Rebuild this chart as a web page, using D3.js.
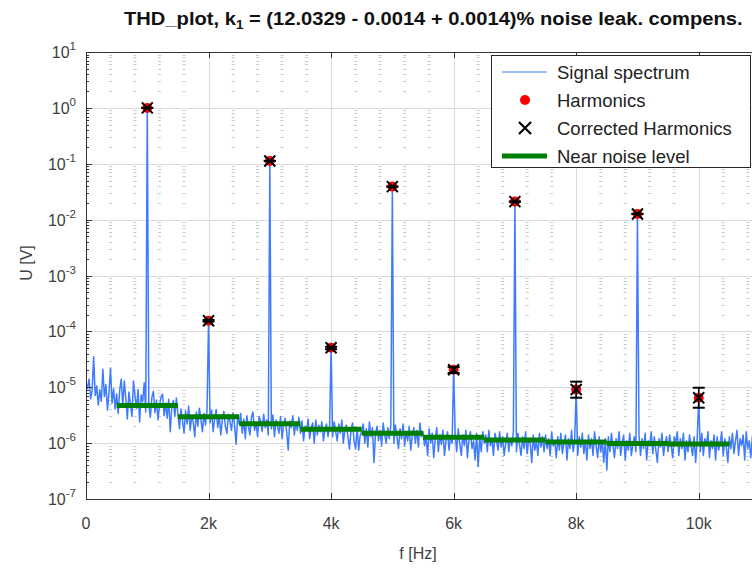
<!DOCTYPE html>
<html>
<head>
<meta charset="utf-8">
<script src="https://cdn.jsdelivr.net/npm/d3@7"></script>
<style>
  body { margin: 0; background: #fff; }
  svg text { font-family: "Liberation Sans", Arial, sans-serif; }
</style>
</head>
<body>
<svg id="chart" width="752" height="570"></svg>
<script>
// THD plot: spectrum (log amplitude) with harmonics, corrected harmonics and noise floor.

// --- data ---
const harmFreq = [1000, 2000, 3000, 4000, 5000, 6000, 7000, 8000, 9000, 10000];
const harmAmp  = [1.0, 1.55e-4, 0.112, 5.1e-5, 0.039, 2.05e-5, 0.021, 9.1e-6, 0.0126, 6.5e-6];
const corrAmp  = [1.0, 1.55e-4, 0.112, 5.1e-5, 0.039, 2.05e-5, 0.021, 9.1e-6, 0.0126, 6.5e-6];
const corrLow  = [1.0, 1.5e-4, 0.112, 4.8e-5, 0.039, 1.8e-5, 0.021, 6.5e-6, 0.0126, 4.3e-6];
const corrHigh = [1.0, 1.6e-4, 0.112, 5.3e-5, 0.039, 2.3e-5, 0.021, 1.26e-5, 0.0126, 9.8e-6];
// near-noise level, one segment of +-500 Hz around each harmonic
const noiseLevel = [4.73e-6, 2.95e-6, 2.23e-6, 1.78e-6, 1.5e-6, 1.27e-6, 1.14e-6, 1.05e-6, 9.8e-7, 9.6e-7];

// signal spectrum noise floor in µV, one bin every 25 Hz from 0 to 11 kHz
const binStep = 25;
const noiseUV = [
  12, 9.5, 14, 6.2, 8.8, 35, 7.1, 10.5, 4.8, 9.0, 5.6, 21, 6.8, 11.2, 3.9, 8.1, 22, 5.2, 9.4, 4.1,
  7.6, 3.4, 8.9, 14, 4.6, 13, 6.3, 2.7, 8.2, 5.1, 3.0, 13, 6.9, 4.2, 9.1, 2.4, 7.3, 5.5, 12, 3.6,
  6.0, 4.8, 2.9, 6.6, 8.5, 3.5, 5.9, 2.6, 4.7, 6.8, 7.5, 3.1, 5.2, 2.8, 6.1, 1.6, 4.4, 5.8, 3.0, 6.4,
  3.3, 1.8, 4.1, 2.6, 1.5, 3.8, 2.2, 4.6, 1.7, 3.0, 2.4, 1.3, 3.6, 2.0, 4.2, 2.7, 1.6, 3.4, 2.1, 3.9,
  3.0, 2.3, 3.9, 1.6, 2.8, 4.0, 1.9, 3.2, 1.4, 2.6, 3.7, 2.0, 1.5, 3.3, 2.4, 1.7, 3.5, 2.1, 0.95, 2.9,
  2.2, 3.4, 1.5, 2.7, 1.2, 3.1, 2.0, 1.4, 2.9, 3.6, 1.7, 2.3, 1.3, 3.0, 2.5, 1.6, 3.3, 1.9, 2.6, 1.4,
  2.4, 1.8, 3.2, 1.3, 2.6, 2.0, 1.5, 3.0, 1.2, 2.2, 2.8, 1.6, 0.75, 2.5, 1.9, 3.1, 1.4, 2.3, 1.7, 2.9,
  1.5, 2.5, 1.1, 2.0, 1.7, 2.7, 1.2, 1.9, 2.3, 1.0, 2.6, 1.4, 2.1, 1.6, 2.4, 1.1, 1.8, 2.2, 1.3, 2.0,
  1.9, 1.3, 2.4, 1.6, 1.1, 2.2, 1.5, 2.6, 1.0, 1.8, 2.1, 1.3, 0.78, 1.7, 2.3, 1.1, 0.8, 1.9, 0.75, 1.4,
  1.6, 2.2, 1.0, 1.8, 0.85, 2.4, 1.3, 1.9, 0.45, 1.5, 2.0, 1.1, 1.7, 0.9, 2.3, 1.4, 1.0, 1.9, 1.2, 2.1,
  1.5, 1.0, 2.1, 1.3, 0.8, 1.8, 1.2, 2.2, 0.9, 1.6, 1.1, 2.0, 0.75, 1.4, 1.9, 1.0, 1.7, 0.85, 2.3, 1.3,
  1.6, 0.9, 1.3, 0.6, 1.8, 1.0, 1.5, 0.55, 1.2, 1.9, 0.7, 1.4, 0.95, 1.7, 0.6, 1.1, 1.6, 0.75, 1.3, 1.0,
  1.2, 1.5, 0.7, 1.8, 1.0, 0.6, 1.4, 0.9, 1.7, 0.55, 1.2, 1.6, 0.8, 1.1, 0.5, 1.5, 0.38, 1.3, 0.7, 1.6,
  1.0, 1.4, 0.7, 1.7, 0.9, 1.2, 0.6, 1.5, 1.1, 0.75, 1.6, 0.85, 1.3, 0.6, 1.0, 1.5, 0.7, 1.2, 0.9, 1.6,
  1.1, 0.7, 1.5, 0.95, 0.6, 1.3, 0.8, 1.6, 0.65, 1.2, 1.0, 0.45, 1.4, 0.75, 1.1, 0.6, 1.5, 0.85, 1.3, 0.7,
  1.4, 0.8, 1.2, 0.6, 1.6, 0.9, 1.1, 0.55, 1.3, 0.75, 1.5, 0.65, 1.0, 1.4, 0.5, 1.2, 0.8, 1.7, 0.7, 1.1,
  1.0, 0.6, 1.3, 0.85, 1.5, 0.65, 1.1, 0.5, 1.4, 0.8, 1.2, 0.6, 1.6, 0.9, 0.55, 1.3, 0.7, 1.1, 0.45, 1.2,
  0.33, 1.3, 0.7, 1.5, 0.9, 0.55, 1.2, 0.8, 1.6, 0.6, 1.0, 1.4, 0.5, 1.1, 0.75, 1.5, 0.6, 0.95, 1.3, 0.7,
  1.0, 1.4, 0.6, 1.2, 0.8, 1.5, 0.5, 1.1, 0.9, 1.6, 0.65, 1.3, 0.75, 0.45, 1.2, 0.85, 1.5, 0.6, 1.0, 1.3,
  0.7, 1.4, 0.9, 0.55, 1.3, 1.0, 1.6, 0.6, 1.2, 0.8, 1.5, 0.5, 1.1, 0.7, 1.4, 0.9, 0.6, 1.3, 0.45, 1.2,
  1.0, 0.7, 1.5, 0.6, 1.2, 0.9, 1.6, 0.55, 1.1, 0.8, 1.4, 0.5, 1.3, 0.75, 1.0, 1.6, 0.6, 1.2, 0.85, 0.45,
  1.3, 0.8, 1.5, 0.65, 1.1, 1.7, 0.6, 1.2, 0.9, 1.4, 0.5, 1.6, 0.8, 1.1, 0.55, 1.3, 1.0, 1.7, 0.7, 1.2,
  0.9
];

const xTicks = [0, 2000, 4000, 6000, 8000, 10000];
const xTickLabels = ['0', '2k', '4k', '6k', '8k', '10k'];
const yDecades = [1, 0, -1, -2, -3, -4, -5, -6, -7];
const legendItems = ['Signal spectrum', 'Harmonics', 'Corrected Harmonics', 'Near noise level'];

// --- layout ---
const M = { left: 86, top: 52, bottom: 499, right: 760 };
const BLUE = '#3f7bff', GREEN = '#007f00', RED = '#ff0000', AXIS = '#333', LABEL = '#404040';

const svg = d3.select('#chart');
const x = d3.scaleLinear().domain([0, 11000]).range([M.left, M.right]);
const y = d3.scaleLog().domain([1e-7, 10]).range([M.bottom, M.top]);

svg.append('defs').append('clipPath').attr('id', 'plotClip')
  .append('rect').attr('x', M.left).attr('y', M.top)
  .attr('width', M.right - M.left).attr('height', M.bottom - M.top);

const grid = svg.append('g');
// minor grid: MATLAB dotted lines show up as small dashes where minor lines cross
const xMinor = d3.range(400, 11000, 400).filter(v => v % 2000 !== 0);
const yMinor = [];
for (let e = -7; e < 1; e++) for (let m = 2; m <= 9; m++) yMinor.push(m * Math.pow(10, e));
const dots = [];
xMinor.forEach(xv => yMinor.forEach(yv => dots.push([xv, yv])));
xMinor.forEach(xv => [1e-7, 1e-6, 1e-5, 1e-4, 1e-3, 1e-2, 1e-1, 1, 10].forEach(yv => dots.push([xv, yv])));
grid.selectAll('line.dot').data(dots).enter().append('line').attr('class', 'dot')
  .attr('x1', d => x(d[0]) - 1.5).attr('x2', d => x(d[0]) + 1.5)
  .attr('y1', d => Math.round(y(d[1])) + 0.5).attr('y2', d => Math.round(y(d[1])) + 0.5)
  .attr('stroke', '#cacaca').attr('stroke-width', 1);

// major grid
grid.selectAll('line.vx').data(xTicks.slice(1)).enter().append('line')
  .attr('x1', d => Math.round(x(d)) + 0.5).attr('x2', d => Math.round(x(d)) + 0.5)
  .attr('y1', M.top).attr('y2', M.bottom).attr('stroke', '#dcdcdc');
grid.selectAll('line.hy').data(yDecades.slice(1, -1)).enter().append('line')
  .attr('x1', M.left).attr('x2', M.right)
  .attr('y1', d => Math.round(y(Math.pow(10, d))) + 0.5).attr('y2', d => Math.round(y(Math.pow(10, d))) + 0.5)
  .attr('stroke', '#dcdcdc');

const plot = svg.append('g').attr('clip-path', 'url(#plotClip)');

// spectrum: noise floor with the harmonic bins set to the harmonic amplitudes
const spectrum = noiseUV.map((u, i) => {
  const f = i * binStep;
  const h = harmFreq.indexOf(f);
  return { f, v: h >= 0 ? harmAmp[h] : u * 1e-6 };
});
plot.append('path').datum(spectrum)
  .attr('d', d3.line().x(d => x(d.f)).y(d => y(d.v)))
  .attr('fill', 'none').attr('stroke', BLUE).attr('stroke-width', 1.5)
  .attr('stroke-linejoin', 'round');

// near noise level segments
plot.selectAll('line.noise').data(harmFreq).enter().append('line')
  .attr('x1', d => x(d - 500)).attr('x2', d => x(d + 500))
  .attr('y1', (d, i) => y(noiseLevel[i])).attr('y2', (d, i) => y(noiseLevel[i]))
  .attr('stroke', GREEN).attr('stroke-width', 5);

// harmonics (red dots)
plot.selectAll('circle.h').data(harmFreq).enter().append('circle')
  .attr('cx', d => x(d)).attr('cy', (d, i) => y(harmAmp[i])).attr('r', 5).attr('fill', RED);

// corrected harmonics with error bars
const cg = plot.selectAll('g.corr').data(harmFreq).enter().append('g')
  .attr('transform', d => `translate(${x(d)},0)`);
cg.append('line').attr('x1', 0).attr('x2', 0)
  .attr('y1', (d, i) => y(corrLow[i])).attr('y2', (d, i) => y(corrHigh[i]))
  .attr('stroke', '#000').attr('stroke-width', 1.5);
cg.append('line').attr('x1', -6).attr('x2', 6)
  .attr('y1', (d, i) => y(corrLow[i])).attr('y2', (d, i) => y(corrLow[i]))
  .attr('stroke', '#000').attr('stroke-width', 2);
cg.append('line').attr('x1', -6).attr('x2', 6)
  .attr('y1', (d, i) => y(corrHigh[i])).attr('y2', (d, i) => y(corrHigh[i]))
  .attr('stroke', '#000').attr('stroke-width', 2);
cg.append('path').attr('d', (d, i) => {
  const cy = y(corrAmp[i]);
  return `M-5.5,${cy - 5.5}L5.5,${cy + 5.5}M-5.5,${cy + 5.5}L5.5,${cy - 5.5}`;
}).attr('stroke', '#000').attr('stroke-width', 2).attr('fill', 'none');

// --- axes box and ticks (inward, MATLAB style) ---
const ax = svg.append('g');
ax.append('rect').attr('x', M.left + 0.5).attr('y', M.top + 0.5)
  .attr('width', M.right - M.left).attr('height', M.bottom - M.top)
  .attr('fill', 'none').attr('stroke', AXIS);
xTicks.forEach(t => {
  const px = Math.round(x(t)) + 0.5;
  ax.append('line').attr('x1', px).attr('x2', px).attr('y1', M.bottom).attr('y2', M.bottom - 6).attr('stroke', AXIS);
  ax.append('line').attr('x1', px).attr('x2', px).attr('y1', M.top).attr('y2', M.top + 6).attr('stroke', AXIS);
});
yDecades.forEach(e => {
  const py = Math.round(y(Math.pow(10, e))) + 0.5;
  ax.append('line').attr('x1', M.left).attr('x2', M.left + 6).attr('y1', py).attr('y2', py).attr('stroke', AXIS);
});
yMinor.forEach(v => {
  const py = Math.round(y(v)) + 0.5;
  ax.append('line').attr('x1', M.left).attr('x2', M.left + 3).attr('y1', py).attr('y2', py).attr('stroke', AXIS);
});

// tick labels
ax.selectAll('text.xt').data(xTicks).enter().append('text')
  .attr('x', d => x(d)).attr('y', 529).attr('text-anchor', 'middle')
  .attr('font-size', 16).attr('fill', LABEL)
  .text((d, i) => xTickLabels[i]);
const yt = ax.selectAll('text.yt').data(yDecades).enter().append('text')
  .attr('x', 76).attr('y', d => y(Math.pow(10, d)) + 6).attr('text-anchor', 'end')
  .attr('font-size', 16).attr('fill', LABEL);
yt.append('tspan').text('10');
yt.append('tspan').attr('dy', -8).attr('font-size', 11.5).text(d => d);

// axis labels and title
svg.append('text').attr('x', 418).attr('y', 559).attr('text-anchor', 'middle')
  .attr('font-size', 16).attr('fill', LABEL).text('f [Hz]');
svg.append('text').attr('transform', 'translate(32,263) rotate(-90)').attr('text-anchor', 'middle')
  .attr('font-size', 16).attr('fill', LABEL).text('U [V]');
const title = svg.append('text').attr('x', 0).attr('y', 0)
  .attr('font-size', 18).attr('font-weight', 'bold').attr('fill', '#111');
title.append('tspan').text('THD_plot, k');
title.append('tspan').attr('dy', 4).attr('font-size', 12).text('1');
title.append('tspan').attr('dy', -4).text(' = (12.0329 - 0.0014 + 0.0014)% noise leak. compens.');
// widen the title so it spans the same width as in the reference (124..743)
const tw = title.node().getComputedTextLength();
title.attr('transform', `translate(124,25) scale(${619 / tw},1)`);

// --- legend ---
const lg = svg.append('g').attr('transform', 'translate(491,55)');
lg.append('rect').attr('x', 0.5).attr('y', 0.5).attr('width', 259).attr('height', 112)
  .attr('fill', '#fff').attr('stroke', '#262626');
const rowY = i => 17 + i * 28;
lg.append('line').attr('x1', 11).attr('x2', 56).attr('y1', rowY(0)).attr('y2', rowY(0))
  .attr('stroke', BLUE).attr('stroke-width', 1);
lg.append('circle').attr('cx', 34).attr('cy', rowY(1)).attr('r', 5).attr('fill', RED);
lg.append('path').attr('d', `M28,${rowY(2) - 6}L40,${rowY(2) + 6}M28,${rowY(2) + 6}L40,${rowY(2) - 6}`)
  .attr('stroke', '#000').attr('stroke-width', 2.2);
lg.append('line').attr('x1', 11).attr('x2', 56).attr('y1', rowY(3)).attr('y2', rowY(3))
  .attr('stroke', GREEN).attr('stroke-width', 5);
lg.selectAll('text').data(legendItems).enter().append('text')
  .attr('x', 66).attr('y', (d, i) => rowY(i) + 6.5)
  .attr('font-size', 18.5).attr('fill', '#222').text(d => d);
</script>
</body>
</html>
